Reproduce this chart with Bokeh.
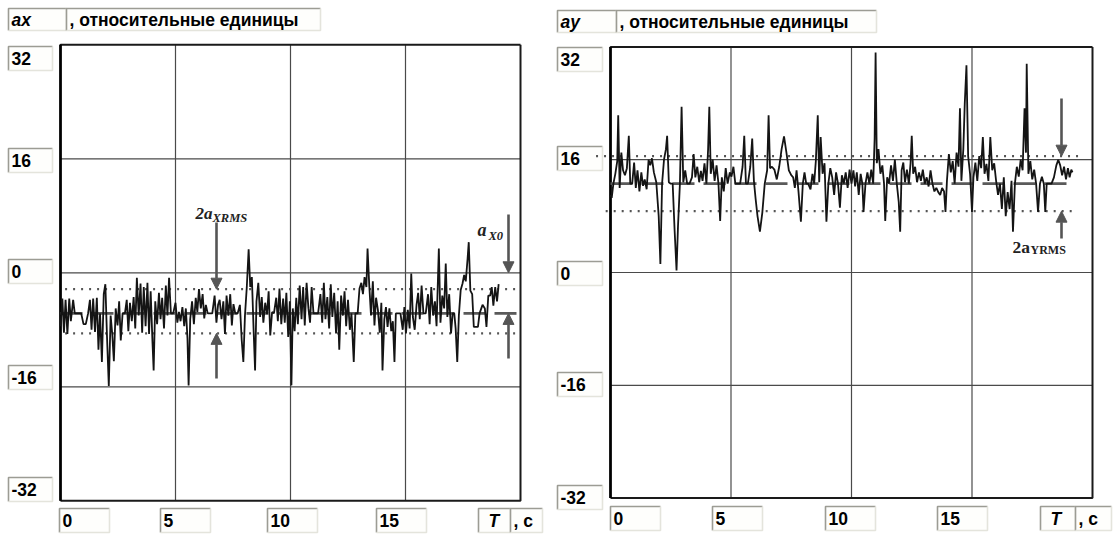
from bokeh.plotting import figure
from bokeh.layouts import row
from bokeh.models import Arrow, NormalHead
from bokeh.core.properties import value
from bokeh.embed import file_html
from bokeh.resources import INLINE

# ---------------- data ----------------
y_ticks = [32, 16, 0, -16, -32]
x_ticks = [0, 5, 10, 15]
x_unit = ["T", ", c"]
title_unit = ", относительные единицы"

ax_t = [0.00, 0.08, 0.15, 0.22, 0.30, 0.38, 0.45, 0.55, 0.62, 0.75, 0.90, 1.00, 1.10, 1.20, 1.28, 1.35, 1.42, 1.50,
        1.58, 1.65, 1.72, 1.80, 1.88, 1.95, 2.02, 2.10, 2.18, 2.25, 2.32, 2.40, 2.48, 2.55, 2.62, 2.70, 2.80, 2.88,
        2.95, 3.02, 3.10, 3.18, 3.25, 3.32, 3.40, 3.48, 3.55, 3.62, 3.70, 3.78, 3.85, 3.92, 4.00, 4.05, 4.12, 4.20,
        4.28, 4.35, 4.42, 4.50, 4.58, 4.65, 4.72, 4.80, 4.90, 5.00, 5.08, 5.15, 5.22, 5.30, 5.38, 5.45, 5.52, 5.57,
        5.64, 5.72, 5.80, 5.88, 5.95, 6.02, 6.10, 6.18, 6.25, 6.32, 6.40, 6.50, 6.60, 6.70, 6.78, 6.85, 6.92, 7.00,
        7.08, 7.15, 7.22, 7.30, 7.38, 7.45, 7.52, 7.60, 7.70, 7.80, 7.88, 7.95, 8.02, 8.10, 8.18, 8.25, 8.32, 8.40,
        8.46, 8.52, 8.60, 8.68, 8.75, 8.82, 8.90, 8.98, 9.05, 9.12, 9.20, 9.28, 9.38, 9.45, 9.52, 9.60, 9.68, 9.75,
        9.82, 9.90, 9.97, 10.04, 10.10, 10.18, 10.25, 10.32, 10.40, 10.48, 10.55, 10.62, 10.70, 10.78, 10.85, 10.92,
        11.00, 11.10, 11.20, 11.30, 11.38, 11.45, 11.52, 11.60, 11.68, 11.75, 11.82, 11.90, 11.98, 12.05, 12.12,
        12.20, 12.28, 12.35, 12.42, 12.50, 12.58, 12.65, 12.75, 12.82, 12.92, 13.00, 13.08, 13.15, 13.22, 13.30,
        13.35, 13.42, 13.50, 13.58, 13.65, 13.72, 13.80, 13.88, 13.95, 14.00, 14.08, 14.15, 14.22, 14.30, 14.38,
        14.45, 14.52, 14.58, 14.68, 14.78, 14.88, 14.95, 15.02, 15.10, 15.18, 15.25, 15.32, 15.40, 15.48, 15.55,
        15.62, 15.70, 15.78, 15.88, 15.98, 16.05, 16.12, 16.20, 16.28, 16.35, 16.45, 16.52, 16.60, 16.68, 16.75,
        16.82, 16.90, 16.98, 17.05, 17.12, 17.18, 17.25, 17.32, 17.40, 17.48, 17.55, 17.62, 17.70, 17.75, 17.82,
        17.90, 17.97, 18.05, 18.15, 18.22, 18.35, 18.45, 18.52, 18.60, 18.68, 18.75, 18.82, 18.90, 18.98, 19.05]
ax_v = [-7.5, -3.6, -8.4, -3.8, -8.6, -3.6, -6.8, -3.8, -5.7, -5.7, -5.7, -7.2, -7.2, -5.7, -3.8, -8.0, -3.6, -8.3,
        -3.5, -10.8, -5.7, -12.5, -3.0, -1.6, -8.8, -15.9, -6.0, -8.6, -12.4, -5.0, -7.4, -4.0, -9.5, -5.7, -5.7, -3.8,
        -8.2, -4.2, -6.8, -3.4, -7.8, -0.7, -6.0, -1.5, -8.4, -2.0, -7.5, -1.4, -8.6, -2.6, -9.8, -13.7, -4.0, -7.2,
        -2.8, -6.5, -3.5, -7.8, -1.8, -6.0, -0.7, -5.7, -5.7, -4.2, -7.0, -5.5, -6.8, -4.8, -7.5, -5.0, -9.2, -15.8,
        -6.5, -4.0, -7.2, -3.5, -5.5, -2.3, -5.0, -3.0, -6.4, -4.5, -5.7, -5.7, -5.7, -3.2, -7.0, -4.5, -3.8, -6.5,
        -4.0, -8.6, -3.2, -6.0, -3.0, -7.4, -4.4, -5.7, -5.7, -4.5, -9.5, -12.5, -6.0, -2.0, 3.3, -2.0, -0.6, -8.4,
        -13.7, -4.0, -1.4, -6.2, -3.4, -7.0, -4.2, -5.8, -2.6, -8.8, -5.5, -5.7, -3.5, -6.8, -2.2, -7.2, -3.6, -7.0,
        -2.8, -9.0, -4.0, -15.8, -5.0, -8.2, -3.5, -7.2, -1.8, -6.5, -2.0, -7.4, -1.4, -5.0, -7.0, -2.0,
        -5.7, -5.7, -5.7, -3.0, -7.0, -1.4, -6.5, -3.4, -7.8, -1.6, -6.2, -2.8, -8.5, -4.0, -10.8,
        -3.2, -6.0, -2.6, -7.5, -3.8, -8.0, -5.7, -12.5, -5.7, -5.7, -2.2, -1.4, -3.0, -0.6, -2.0,
        3.4, -1.5, -6.0, -1.2, -7.4, -3.5, -5.2, -8.4, -4.2, -13.7, -6.5, -4.8, -7.6, -5.0, -8.2,
        -6.8, -12.5, -5.7, -5.7, -5.7, -8.0, -4.8, -8.5, -5.2, -7.8, -0.1, -6.2, -8.0, -4.5, -2.8,
        -6.5, -1.8, -5.7, -5.7, -3.0, -7.2, -2.0, -6.0, -4.0, -7.5, 3.4, -7.0, -3.2, -5.0, 1.3,
        -6.2, -3.0, -8.5, -5.7, -5.7, -7.8, -12.5, -6.0, -2.4, -1.5, -0.3, -1.2, 2.0, 4.3, -2.5,
        -3.0, -7.6, -7.6, -7.6, -5.7, -4.5, -5.0, -7.6, -3.2, -3.2, -2.0, -4.6, -2.0, -4.0, -1.6]
ax_mean = -5.7
ax_rms_hi = -2.3
ax_rms_lo = -8.5

ay_t = [0.00, 0.05, 0.12, 0.20, 0.28, 0.32, 0.38, 0.45, 0.52, 0.60, 0.68, 0.76, 0.82, 0.90, 0.98, 1.05, 1.12, 1.20,
        1.28, 1.35, 1.42, 1.50, 1.58, 1.65, 1.72, 1.80, 1.90, 2.00, 2.07, 2.14, 2.22, 2.30, 2.35, 2.42, 2.50, 2.58,
        2.66, 2.74, 2.80, 2.88, 2.95, 3.02, 3.10, 3.18, 3.28, 3.38, 3.45, 3.52, 3.60, 3.68, 3.75, 3.82, 3.90, 3.98,
        4.05, 4.10, 4.16, 4.24, 4.32, 4.40, 4.48, 4.55, 4.62, 4.70, 4.78, 4.86, 4.95, 5.02, 5.10, 5.18, 5.28, 5.38,
        5.48, 5.55, 5.62, 5.70, 5.80, 5.88, 5.95, 6.02, 6.10, 6.20, 6.30, 6.40, 6.50, 6.56, 6.62, 6.70, 6.80, 6.90,
        7.00, 7.10, 7.20, 7.30, 7.40, 7.50, 7.58, 7.65, 7.72, 7.80, 7.90, 7.98, 8.05, 8.12, 8.20, 8.30, 8.38, 8.45,
        8.52, 8.60, 8.66, 8.72, 8.80, 8.88, 8.96, 9.04, 9.12, 9.20, 9.28, 9.36, 9.44, 9.52, 9.60, 9.68, 9.76, 9.84,
        9.92, 10.00, 10.08, 10.15, 10.22, 10.30, 10.38, 10.45, 10.50, 10.58, 10.66, 10.74, 10.82, 10.90, 10.96,
        11.00, 11.05, 11.12, 11.20, 11.28, 11.35, 11.40, 11.48, 11.56, 11.64, 11.72, 11.80, 11.88, 11.96, 12.02,
        12.08, 12.15, 12.22, 12.30, 12.38, 12.45, 12.50, 12.56, 12.64, 12.72, 12.80, 12.88, 12.96, 13.04, 13.12,
        13.20, 13.28, 13.36, 13.44, 13.52, 13.60, 13.68, 13.76, 13.84, 13.90, 13.96, 14.04, 14.12, 14.20, 14.28,
        14.36, 14.44, 14.50, 14.56, 14.64, 14.70, 14.77, 14.84, 14.92, 15.00, 15.06, 15.14, 15.22, 15.30, 15.38,
        15.45, 15.52, 15.60, 15.68, 15.76, 15.84, 15.92, 16.00, 16.08, 16.16, 16.24, 16.32, 16.40, 16.48, 16.56,
        16.64, 16.70, 16.78, 16.86, 16.94, 17.02, 17.10, 17.18, 17.24, 17.27, 17.34, 17.42, 17.50, 17.58, 17.66,
        17.74, 17.82, 17.90, 17.98, 18.04, 18.10, 18.20, 18.30, 18.40, 18.50, 18.58, 18.66, 18.74, 18.82, 18.90,
        18.98, 19.05, 19.12, 19.17]
ay_v = [11.0, 10.6, 12.6, 14.0, 15.8, 22.3, 12.0, 17.0, 14.5, 13.8, 14.8, 19.4, 12.6, 12.6, 15.6, 12.0, 14.5, 11.5,
        14.2, 12.3, 13.2, 11.8, 16.0, 15.2, 16.2, 14.2, 12.8, 8.0, 1.2, 12.6, 16.0, 17.5, 19.4, 12.8, 12.6, 12.6,
        6.0, 0.3, 6.5, 12.6, 23.5, 12.8, 14.5, 12.6, 12.6, 13.5, 16.8, 13.5, 15.0, 12.8, 14.4, 13.0, 15.5, 12.6,
        17.5, 23.5, 14.0, 16.0, 13.0, 15.2, 12.6, 7.3, 13.5, 11.5, 14.8, 12.6, 14.2, 13.6, 15.0, 12.6, 12.6, 12.6,
        15.0, 19.4, 12.6, 12.6, 15.0, 19.0, 13.0, 10.5, 8.0, 5.8, 8.5, 12.6, 14.5, 22.3, 14.8, 15.0, 14.6, 13.2,
        15.0, 17.5, 19.3, 17.0, 14.5, 13.8, 13.5, 12.0, 14.5, 11.5, 7.2, 12.6, 14.2, 12.6, 12.6, 11.8, 14.0, 12.6,
        15.8, 22.3, 12.8, 19.2, 14.0, 15.5, 7.2, 12.6, 14.8, 13.5, 11.0, 14.2, 12.6, 9.2, 13.8, 12.6, 14.2, 12.0,
        14.6, 12.6, 14.5, 12.2, 14.2, 11.0, 14.0, 12.6, 8.6, 12.6, 14.2, 12.6, 14.6, 12.6, 19.0,
        31.2, 15.5, 17.5, 14.0, 15.2, 12.6, 7.3, 13.5, 12.6, 15.2, 13.0, 16.0, 12.6, 10.0, 5.8,
        14.5, 15.6, 12.8, 14.6, 12.6, 15.5, 19.4, 14.0, 15.0, 12.8, 14.2, 13.0, 14.6, 12.6, 13.5,
        12.2, 14.5, 12.6, 11.5, 12.0, 11.4, 11.0, 12.0, 11.5, 8.6, 13.0, 16.8, 14.2, 15.8, 12.6,
        17.0, 15.0, 23.3, 13.0, 17.5, 24.0, 29.4, 16.5, 14.0, 8.6, 13.5, 15.6, 13.0, 16.5, 14.8,
        19.2, 14.0, 15.4, 13.0, 19.2, 14.5, 15.5, 13.0, 11.0, 12.6, 9.0, 13.5, 8.0, 11.4, 9.0,
        13.0, 5.8, 12.6, 15.0, 13.6, 16.0, 14.5, 23.3, 17.0, 29.6, 14.0, 15.8, 13.2, 14.6, 12.6,
        8.6, 12.6, 13.6, 12.6, 8.6, 12.6, 12.6, 12.6, 13.5, 15.2, 16.0, 15.2, 13.8, 15.0, 13.2,
        14.8, 13.5, 14.6, 14.2]
ay_mean = 12.6
ay_rms_hi = 16.5
ay_rms_lo = 8.7

# ---------------- layout helpers ----------------
GRID = "#4a4a4a"
ANN = "#555555"
SANS = value("Liberation Sans")
SERIF = value("Liberation Serif")
FS = "17.5px"


def make_panel(g, name, t, v, mean, hi, lo, base_end, hi_span, lo_span):
    X = lambda px: (px - g["x0"]) / g["sx"]
    Y = lambda py: (g["y0"] - py) / g["sy"]
    p = figure(width=g["w"], height=g["h"],
               x_range=(X(g["left"]), X(g["left"] + g["w"])),
               y_range=(Y(g["top"] + g["h"]), Y(g["top"])),
               x_axis_location=None, y_axis_location=None,
               output_backend="svg", toolbar_location=None, min_border=0)
    p.grid.visible = False
    p.outline_line_color = None
    p.background_fill_color = "white"
    p.border_fill_color = "white"

    def box(px_l, py_t, w, h, text, style="bold", size=FS, pad=3):
        l, r, tp, bt = X(px_l), X(px_l + w), Y(py_t), Y(py_t + h)
        p.quad(left=[l], right=[r], top=[tp], bottom=[bt], fill_color="#fefefc", line_color=None)
        p.multi_line(xs=[[l, l, r]], ys=[[bt, tp, tp]], line_color="#9c9c94", line_width=1.6)
        p.multi_line(xs=[[l, r, r]], ys=[[bt, bt, tp]], line_color="#e4e4dc", line_width=1.6)
        p.text(x=[X(px_l + pad)], y=[(tp + bt) / 2], text=[text], text_font=SANS,
               text_font_style=style, text_font_size=size, text_baseline="middle",
               text_align="left", text_color="black")

    bx = g["bx"]
    # title boxes
    box(bx, g["title_y"], g["name_w"], 22, name, style="bold italic")
    box(bx + g["name_w"], g["title_y"], g["unit_w"], 22, title_unit)

    # grid inside frame
    xmin, xmax, ymin, ymax = 0, 20, -32, 32
    p.segment(x0=x_ticks[1:], y0=[ymin] * 3, x1=x_ticks[1:], y1=[ymax] * 3,
              line_color=GRID, line_width=1.2)
    p.segment(x0=[xmin] * 3, y0=y_ticks[1:4], x1=[xmax] * 3, y1=y_ticks[1:4],
              line_color=GRID, line_width=1.2)
    # frame
    p.multi_line(xs=[[xmax, xmin, xmin], [xmin, xmax, xmax]],
                 ys=[[ymax, ymax, ymin], [ymin, ymin, ymax]],
                 line_color=["#1a1a1a", "#1a1a1a"], line_width=[2.0, 2.0])
    p.segment(x0=[xmin], y0=[ymin], x1=[xmin], y1=[ymax], line_color="black", line_width=2.6)

    # y tick boxes
    for k, yt in enumerate(y_ticks):
        box(bx, g["ybox"][k] - 12, g["ybw"], 24, str(yt))
    # x tick boxes
    for k, xt in enumerate(x_ticks):
        box(g["xbox"][k], g["xby"], 50, 24, str(xt))
    box(g["xbox"][4], g["xby"], g["tw"], 24, x_unit[0], style="bold italic", pad=10)
    box(g["xbox"][4] + g["tw"], g["xby"], g["cw"], 24, x_unit[1])

    # rms dotted lines
    p.line(x=list(hi_span), y=[hi, hi], line_color=ANN, line_width=2.2, line_dash="2 6")
    p.line(x=list(lo_span), y=[lo, lo], line_color=ANN, line_width=2.2, line_dash="2 6")
    # mean line (dashed thick gray)
    p.line(x=[0, base_end], y=[mean, mean], line_color="#5a5a5a", line_width=2.8, line_dash="22 9")
    # signal
    p.line(x=t, y=v, line_color="#141414", line_width=1.8)
    return p, X, Y


def arrow(p, x, y0, y1):
    p.add_layout(Arrow(end=NormalHead(size=11, fill_color=ANN, line_color=ANN),
                       x_start=x, y_start=y0, x_end=x, y_end=y1,
                       line_color=ANN, line_width=2.6))


def label(p, x, y, text, size, style):
    p.text(x=[x], y=[y], text=[text], text_font=SERIF, text_font_style=style,
           text_font_size=size, text_baseline="middle", text_align="left", text_color="#222")


# ---- left panel (ax) ----
gL = dict(left=0, top=0, w=553, h=536, x0=60, sx=23.0, y0=272.3, sy=7.125, bx=8,
          title_y=8, name_w=58, unit_w=254, ybw=44,
          ybox=[58, 160, 271, 377, 489], xbox=[59, 160, 267, 376, 478], xby=508, tw=32, cw=32)
p1, X1, Y1 = make_panel(gL, "ax", ax_t, ax_v, ax_mean, ax_rms_hi, ax_rms_lo, 20,
                        (0.2, 20), (0.2, 20))
ax_arrow_t = X1(216)
arrow(p1, ax_arrow_t, Y1(222), ax_rms_hi)
arrow(p1, ax_arrow_t, Y1(378), ax_rms_lo)
a0_t = X1(508)
arrow(p1, a0_t, Y1(214), 0)
arrow(p1, a0_t, Y1(358), ax_mean)
label(p1, X1(195), Y1(213), "2a", "17px", "bold italic")
label(p1, X1(212), Y1(217), "XRMS", "12.5px", "bold italic")
label(p1, X1(477), Y1(229), "a", "18px", "bold italic")
label(p1, X1(488), Y1(235), "X0", "12.5px", "bold italic")

# ---- right panel (ay) ----
gR = dict(left=553, top=0, w=560, h=536, x0=610, sx=24.1, y0=272.0, sy=7.05, bx=557,
          title_y=10, name_w=59, unit_w=260, ybw=45,
          ybox=[59, 158, 273, 384, 497], xbox=[610, 712, 825, 937, 1040], xby=506, tw=35, cw=36)
p2, X2, Y2 = make_panel(gR, "ay", ay_t, ay_v, ay_mean, ay_rms_hi, ay_rms_lo, 19.2,
                        (-0.6, 19.5), (-0.2, 19.2))
ay_arrow_t = X2(1061)
arrow(p2, ay_arrow_t, Y2(98), ay_rms_hi)
arrow(p2, ay_arrow_t, Y2(238), ay_rms_lo)
label(p2, X2(1012), Y2(246), "2a", "17.5px", "bold")
label(p2, X2(1030), Y2(249), "YRMS", "12px", "bold")

layout = row(p1, p2)
open("out.html", "w").write(file_html(layout, INLINE))
